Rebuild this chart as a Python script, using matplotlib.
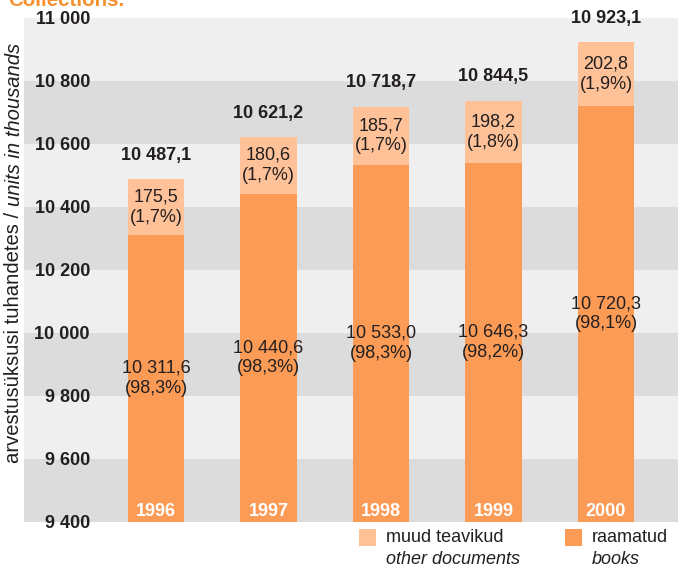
import matplotlib
matplotlib.use('Agg')
import matplotlib.pyplot as plt
from matplotlib.patches import Rectangle

plt.rcParams['font.family'] = ['Liberation Sans', 'DejaVu Sans']
plt.rcParams['font.size'] = 13

# ---------------- data ----------------
years = ['1996', '1997', '1998', '1999', '2000']
books = [10311.6, 10440.6, 10533.0, 10646.3, 10720.3]        # labelled values
books_pct = [98.3, 98.3, 98.3, 98.2, 98.1]
other = [175.5, 180.6, 185.7, 198.2, 202.8]
other_pct = [1.7, 1.7, 1.7, 1.8, 1.9]
totals = [10487.1, 10621.2, 10718.7, 10844.5, 10923.1]
# bar heights of the books segment as drawn in the source picture
# (the 1999 bar is drawn lower than its label says)
books_drawn = [10311.6, 10440.6, 10533.0, 10539.0, 10720.3]
yticks = [9400, 9600, 9800, 10000, 10200, 10400, 10600, 10800, 11000]

C_BOOKS = '#FB9B56'
C_OTHER = '#FEC198'
C_LIGHT = '#EFEFEF'
C_DARK = '#DCDCDC'
C_TEXT = '#231F20'
C_TITLE = '#F7912F'

W, H = 678, 567
fig = plt.figure(figsize=(W / 100, H / 100), dpi=100)
fig.patch.set_facecolor('white')
ax = fig.add_axes([24 / W, 1 - 521.5 / H, 1 - 24 / W, (521.5 - 18) / H])


def fmt(v):
    return f"{v:,.1f}".replace(',', ' ').replace('.', ',')


def fmtp(p):
    return f"({p:.1f}%)".replace('.', ',')


# background bands
for i in range(len(yticks) - 1):
    ax.axhspan(yticks[i], yticks[i + 1], color=C_DARK if i % 2 == 0 else C_LIGHT,
               lw=0, zorder=0)

x = list(range(len(years)))
ax.bar(x, [b - yticks[0] for b in books_drawn], bottom=yticks[0], width=0.5,
       color=C_BOOKS, lw=0, zorder=2)
ax.bar(x, other, bottom=books_drawn, width=0.5, color=C_OTHER, lw=0, zorder=2)

ax.set_xlim(-1.173, 4.64)
ax.set_ylim(yticks[0], yticks[-1])
ax.set_xticks([])
ax.set_yticks(yticks)
ax.set_yticklabels([f"{t:,}".replace(',', ' ') for t in yticks],
                   fontweight='bold', color=C_TEXT)
ax.tick_params(axis='y', length=0, pad=-66 * 0.72)
for lab in ax.get_yticklabels():
    lab.set_horizontalalignment('right')
for s in ax.spines.values():
    s.set_visible(False)

for i in x:
    top = books_drawn[i] + other[i]
    # books label
    ax.text(i, (yticks[0] + books_drawn[i]) / 2, fmt(books[i]) + '\n' + fmtp(books_pct[i]),
            ha='center', va='center', multialignment='center', linespacing=1.25,
            color=C_TEXT, zorder=3)
    # other label
    ax.text(i, books_drawn[i] + other[i] / 2, fmt(other[i]) + '\n' + fmtp(other_pct[i]),
            ha='center', va='center', multialignment='center', linespacing=1.25,
            color=C_TEXT, zorder=3)
    # total label
    ax.annotate(fmt(totals[i]), (i, top), xytext=(0, 24 * 0.72), textcoords='offset points',
                ha='center', va='center', fontweight='bold', color=C_TEXT, zorder=3,
                annotation_clip=False)
    # year label
    ax.annotate(years[i], (i, yticks[0]), xytext=(0, 5 * 0.72), textcoords='offset points',
                ha='center', va='baseline', fontweight='bold', color='white', zorder=3)

# y axis label (mixed style)
ysplit = 1 - 206 / H
fig.text(14 / W, ysplit, 'arvestusüksusi tuhandetes / ', rotation=90, rotation_mode='anchor',
         ha='right', va='center', color=C_TEXT, fontsize=14.6)
fig.text(14 / W, ysplit, 'units in thousands', rotation=90, rotation_mode='anchor',
         ha='left', va='center', color=C_TEXT, fontsize=14.6, style='italic')

# title (cut off at top in the source)
fig.text(8 / W, 1 - 6.5 / H, 'Collections.', color=C_TITLE, fontweight='bold',
         fontsize=14.8, va='baseline', ha='left')

# legend
fig.patches.append(Rectangle((359 / W, 1 - 546 / H), 17 / W, 17 / H,
                             transform=fig.transFigure, color=C_OTHER, lw=0))
fig.text(386 / W, 1 - 538 / H, 'muud teavikud', va='center', color=C_TEXT)
fig.text(386 / W, 1 - 559 / H, 'other documents', va='center', style='italic', color=C_TEXT)
fig.patches.append(Rectangle((565 / W, 1 - 546 / H), 17 / W, 17 / H,
                             transform=fig.transFigure, color=C_BOOKS, lw=0))
fig.text(592 / W, 1 - 538 / H, 'raamatud', va='center', color=C_TEXT)
fig.text(592 / W, 1 - 559 / H, 'books', va='center', style='italic', color=C_TEXT)

fig.savefig('out.png', dpi=100)
